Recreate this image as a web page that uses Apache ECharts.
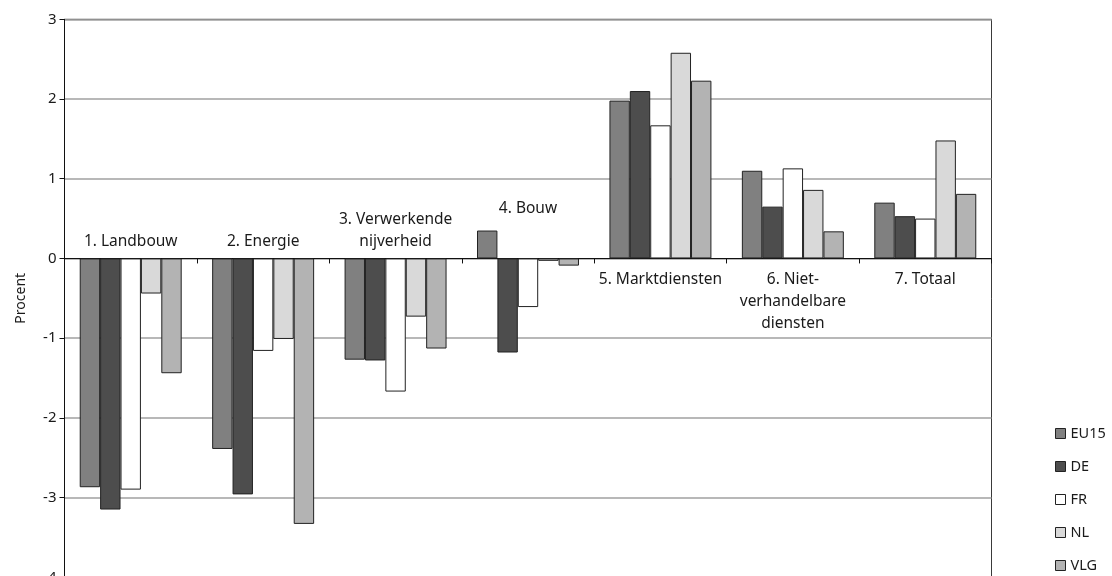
<!DOCTYPE html>
<html>
<head>
<meta charset="utf-8">
<script src="https://cdn.jsdelivr.net/npm/echarts@6/dist/echarts.min.js"></script>
<style>
html,body{margin:0;padding:0;background:#fff;}
#c{width:1112px;height:576px;}
</style>
</head>
<body>
<div id="c"></div>
<script>
const categories = ['1. Landbouw', '2. Energie', '3. Verwerkende\nnijverheid', '4. Bouw', '5. Marktdiensten', '6. Niet-\nverhandelbare\ndiensten', '7. Totaal'];
const seriesNames = ['EU15', 'DE', 'FR', 'NL', 'VLG'];
const EU15 = [-2.87, -2.39, -1.27, 0.35, 1.98, 1.10, 0.70];
const DE   = [-3.15, -2.96, -1.28, -1.18, 2.10, 0.65, 0.53];
const FR   = [-2.90, -1.16, -1.67, -0.61, 1.67, 1.13, 0.50];
const NL   = [-0.44, -1.01, -0.73, -0.03, 2.58, 0.86, 1.48];
const VLG  = [-1.44, -3.33, -1.13, -0.09, 2.23, 0.34, 0.81];
const yTicks = { min: -4, max: 3, interval: 1 };

const seriesData = [EU15, DE, FR, NL, VLG];
const colors = ['#808080', '#4d4d4d', '#ffffff', '#d9d9d9', '#b3b3b3'];
const FONT = 'Noto Sans';

// helper: invisible zero-height bars on a hidden axis carrying the category labels
const labelItems = categories.map(function (c, i) {
  const above = i < 4;
  return {
    value: 0,
    label: {
      show: true,
      position: above ? 'top' : 'bottom',
      distance: above ? (i === 3 ? 39 : 6) : 10,
      formatter: c
    }
  };
});

const series = seriesNames.map(function (name, k) {
  return {
    name: name, type: 'bar', xAxisIndex: 0,
    data: seriesData[k],
    barGap: '0%', barCategoryGap: '23%',
    itemStyle: { color: colors[k], borderColor: '#222', borderWidth: 1 }
  };
});
series.push({
  name: 'labels', type: 'bar', xAxisIndex: 1,
  data: labelItems, barWidth: 1, silent: true,
  itemStyle: { color: 'rgba(0,0,0,0)', borderWidth: 0 },
  label: { fontSize: 15.5, lineHeight: 22, color: '#1a1a1a', fontFamily: FONT, align: 'center' },
  z: 5
});

const chart = echarts.init(document.getElementById('c'), null, { renderer: 'canvas' });
chart.setOption({
  animation: false,
  backgroundColor: '#fff',
  textStyle: { fontFamily: FONT, color: '#1a1a1a' },
  grid: { left: 64.5, top: 19.3, width: 927, height: 558, containLabel: false, outerBoundsMode: 'none',
          show: true, borderColor: '#3a3a3a', borderWidth: 1, backgroundColor: 'transparent' },
  legend: {
    orient: 'vertical', left: 1055, top: 426, padding: 0,
    itemWidth: 10, itemHeight: 10, itemGap: 18,
    icon: 'rect',
    data: seriesNames,
    textStyle: { fontFamily: FONT, fontSize: 14.5, color: '#1a1a1a' },
    itemStyle: { borderColor: '#222', borderWidth: 1 }
  },
  xAxis: [
    {
      type: 'category', data: categories, position: 'bottom',
      axisLine: { onZero: true, lineStyle: { color: '#111', width: 1 } },
      axisTick: { show: true, length: 5, lineStyle: { color: '#111' } },
      axisLabel: { show: false },
      splitLine: { show: false }
    },
    {
      type: 'category', data: categories, position: 'bottom', show: false
    }
  ],
  yAxis: {
    type: 'value', min: yTicks.min, max: yTicks.max, interval: yTicks.interval,
    name: 'Procent', nameLocation: 'middle', nameGap: 36, nameRotate: 90,
    nameTextStyle: { fontSize: 14, color: '#1a1a1a', fontFamily: FONT },
    axisLine: { show: true, lineStyle: { color: '#111' } },
    axisTick: { show: true, length: 5, lineStyle: { color: '#111' } },
    axisLabel: { fontSize: 15, color: '#1a1a1a', margin: 8, fontFamily: FONT },
    splitLine: { show: true, lineStyle: { color: '#a0a0a0', width: 1.5 } }
  },
  series: series
});
</script>
</body>
</html>
